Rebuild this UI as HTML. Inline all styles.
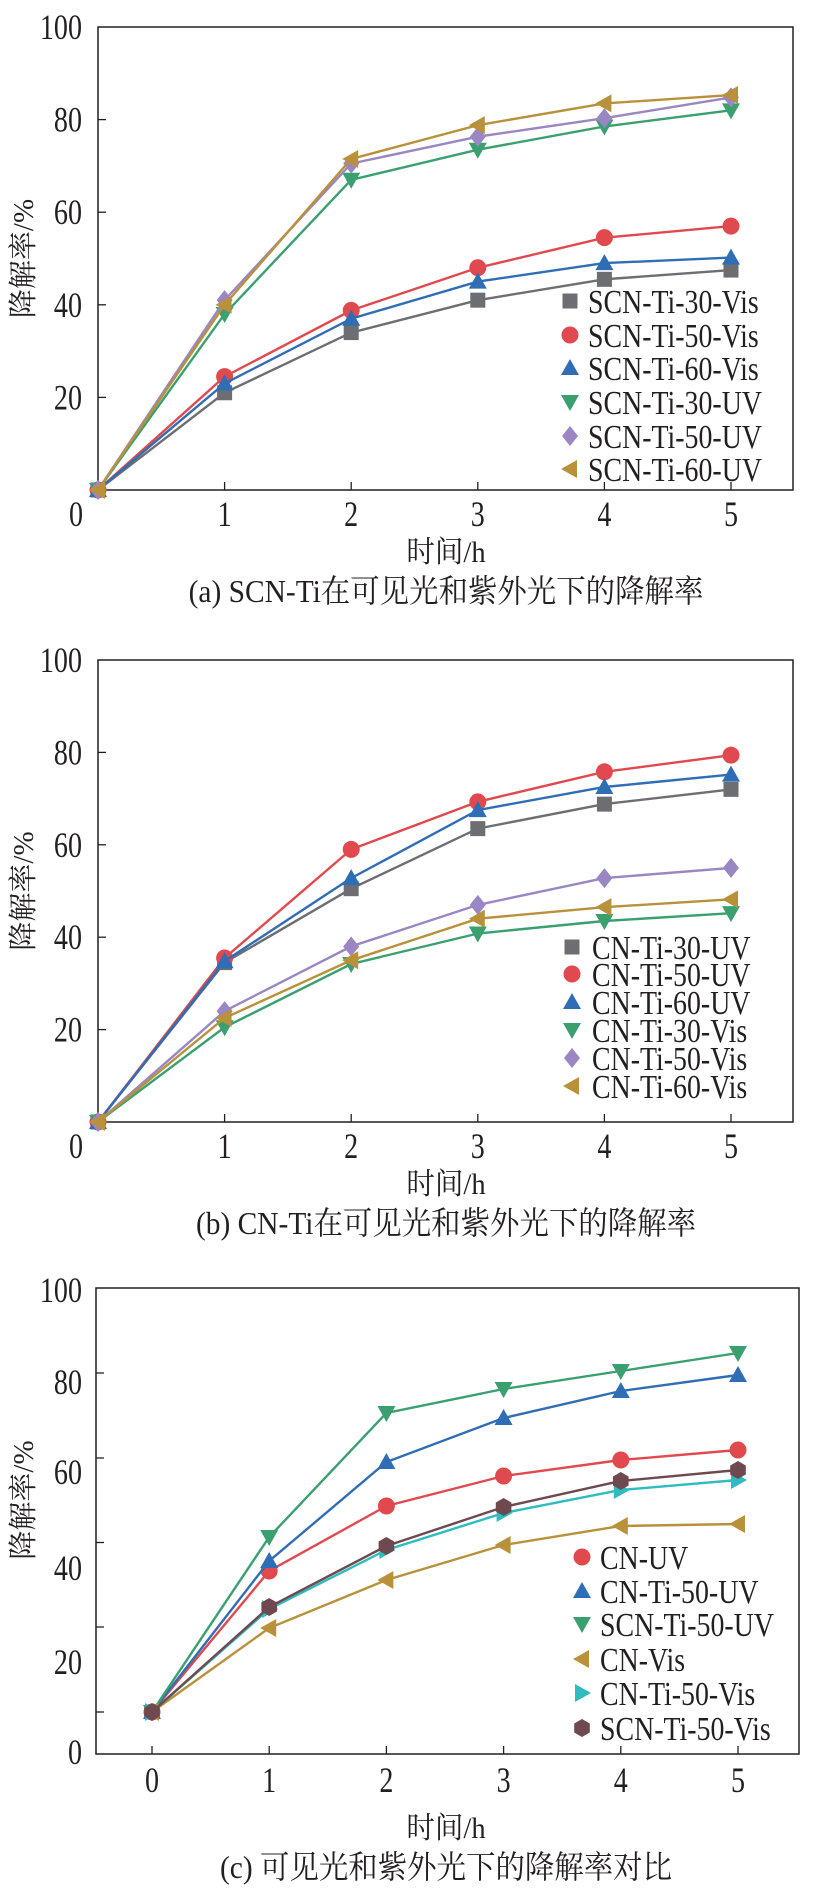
<!DOCTYPE html>
<html><head><meta charset="utf-8"><style>
html,body{margin:0;padding:0;background:#fff;}
svg{display:block;}
text{font-family:"Liberation Serif","Noto Serif CJK SC","Noto Sans CJK SC",serif;fill:#231f20;}
</style></head><body>
<svg id="s" width="816" height="1902" viewBox="0 0 816 1902" xmlns="http://www.w3.org/2000/svg"></svg>
<script>
const S=document.getElementById('s');let h='';
const C={gray:'#6d6e71',red:'#e04a4f',blue:'#2f6db5',green:'#3aa06f',purple:'#9a86c3',gold:'#b8913a',cyan:'#2ebcc0',brown:'#6e4a50'};
function mk(t,x,y,c){const r=9;
 if(t=='sq')return `<rect x="${x-7.5}" y="${y-7.5}" width="15" height="15" fill="${c}"/>`;
 if(t=='ci')return `<circle cx="${x}" cy="${y}" r="8.5" fill="${c}"/>`;
 if(t=='up')return `<polygon points="${x},${y-9} ${x-9},${y+7} ${x+9},${y+7}" fill="${c}"/>`;
 if(t=='dn')return `<polygon points="${x},${y+9} ${x-9},${y-7} ${x+9},${y-7}" fill="${c}"/>`;
 if(t=='di')return `<polygon points="${x},${y-10} ${x-8},${y} ${x},${y+10} ${x+8},${y}" fill="${c}"/>`;
 if(t=='le')return `<polygon points="${x-9},${y} ${x+7},${y-9} ${x+7},${y+9}" fill="${c}"/>`;
 if(t=='ri')return `<polygon points="${x+9},${y} ${x-7},${y-9} ${x-7},${y+9}" fill="${c}"/>`;
 if(t=='hx'){let p=[];for(let i=0;i<6;i++){const a=Math.PI/3*i+Math.PI/6;p.push((x+r*Math.cos(a)).toFixed(1)+','+(y+r*Math.sin(a)).toFixed(1));}return `<polygon points="${p.join(' ')}" fill="${c}"/>`;}
}
function frame(L,R,T,B,xt,yt){
 h+=`<rect x="${L}" y="${T}" width="${R-L}" height="${B-T}" fill="none" stroke="#231f20" stroke-width="1.5"/>`;
 xt.forEach(x=>h+=`<line x1="${x}" y1="${B}" x2="${x}" y2="${B-8}" stroke="#231f20" stroke-width="1.3"/>`);
 yt.forEach(y=>h+=`<line x1="${L}" y1="${y}" x2="${L+8}" y2="${y}" stroke="#231f20" stroke-width="1.3"/>`);
}
function series(xs,ys,t,c){
 h+=`<polyline points="${xs.map((x,i)=>x+','+ys[i].toFixed(1)).join(' ')}" fill="none" stroke="${c}" stroke-width="2.4"/>`;
 xs.forEach((x,i)=>h+=mk(t,x,ys[i],c));
}
function txt(x,y,s,fs,anchor,k){k=k||1;h+=`<text transform="translate(${x},${y}) scale(${k},1)" font-size="${fs}" text-anchor="${anchor||'start'}">${s}</text>`;}
function tick(x,y,s,a){txt(x,y,s,36,a,0.78);}
function ylab(cy){h+=`<text transform="translate(33,${cy}) rotate(-90)" font-size="29" text-anchor="middle">降解率/%</text>`;}

function panelAB(T,B,data,leg,legY,cap){
 const L=98,R=793,xs=[0,1,2,3,4,5].map(i=>98+i*126.6),u=(B-T)/100;
 frame(L,R,T,B,xs.slice(1),[20,40,60,80].map(v=>B-v*u));
 [20,40,60,80,100].forEach(v=>tick(L-16,B-v*u+12,v,'end'));
 tick(76,B+36,'0','middle');
 xs.slice(1).forEach((x,i)=>tick(x,B+36,i+1,'middle'));
 data.forEach(d=>series(xs,d[2].map(v=>B-v*u),d[0],d[1]));
 leg.forEach((l,i)=>{h+=mk(data[i][0],leg.mx,legY[i],data[i][1]);txt(leg.tx,legY[i]+12,l,34,'start',0.82);});
 txt(446,B+72,'时间/h',30,'middle',0.95);
 txt(446,B+112,cap,32,'middle',0.92);
 ylab((T+B)/2);
}
let la=['SCN-Ti-30-Vis','SCN-Ti-50-Vis','SCN-Ti-60-Vis','SCN-Ti-30-UV','SCN-Ti-50-UV','SCN-Ti-60-UV'];la.mx=570;la.tx=588;
panelAB(27,490,[
 ['sq',C.gray,[0,21,34,41,45.5,47.5]],
 ['ci',C.red,[0,24.5,38.8,48,54.5,57]],
 ['up',C.blue,[0,23,37,45,49,50.2]],
 ['dn',C.green,[0,38,67,73.5,78.5,82]],
 ['di',C.purple,[0,41,70.5,76.3,80.3,84.8]],
 ['le',C.gold,[0,40,71.5,78.8,83.5,85.3]]],la,[301,335,368,402,436,469],'(a) SCN-Ti在可见光和紫外光下的降解率');
let lb=['CN-Ti-30-UV','CN-Ti-50-UV','CN-Ti-60-UV','CN-Ti-30-Vis','CN-Ti-50-Vis','CN-Ti-60-Vis'];lb.mx=572;lb.tx=592;
panelAB(660,1122,[
 ['sq',C.gray,[0,34.5,50.5,63.5,68.8,72]],
 ['ci',C.red,[0,35.5,59,69.3,75.8,79.4]],
 ['up',C.blue,[0,34.8,52.8,67.5,72.5,75.2]],
 ['dn',C.green,[0,20.5,34.2,40.8,43.5,45.2]],
 ['di',C.purple,[0,24,38,47,52.8,55]],
 ['le',C.gold,[0,22.5,35,44,46.5,48.2]]],lb,[947,974,1002,1030,1058,1086],'(b) CN-Ti在可见光和紫外光下的降解率');

(function(){
 const L=96,R=799,T=1288,B=1754,xs=[0,1,2,3,4,5].map(i=>152+i*117.2);
 frame(L,R,T,B,xs,[1373,1458,1542.5,1627,1712]);
 [[100,1290],[80,1382],[60,1472],[40,1568],[20,1662],[0,1752]].forEach(p=>tick(L-14,p[1]+12,p[0],'end'));
 xs.forEach((x,i)=>tick(x,B+38,i,'middle'));
 const d=[
  ['ci',C.red,[1712,1571,1506,1476,1460,1450],'CN-UV'],
  ['up',C.blue,[1712,1561,1462,1418,1391,1375],'CN-Ti-50-UV'],
  ['dn',C.green,[1712,1537,1413,1389,1371,1353],'SCN-Ti-50-UV'],
  ['le',C.gold,[1712,1628,1580,1545,1526,1524],'CN-Vis'],
  ['ri',C.cyan,[1712,1609,1550,1513,1490,1480],'CN-Ti-50-Vis'],
  ['hx',C.brown,[1712,1607,1546,1507,1481,1470],'SCN-Ti-50-Vis']];
 d.forEach(s=>series(xs,s[2],s[0],s[1]));
 const ly=[1557,1591,1624,1659,1693,1728];
 d.forEach((s,i)=>{h+=mk(s[0],582,ly[i],s[1]);txt(600,ly[i]+12,s[3],34,'start',0.82);});
 txt(446,1838,'时间/h',30,'middle',0.95);
 txt(446,1878,'(c) 可见光和紫外光下的降解率对比',32,'middle',0.92);
 ylab(1500);
})();
S.innerHTML=h;
</script>
</body></html>
